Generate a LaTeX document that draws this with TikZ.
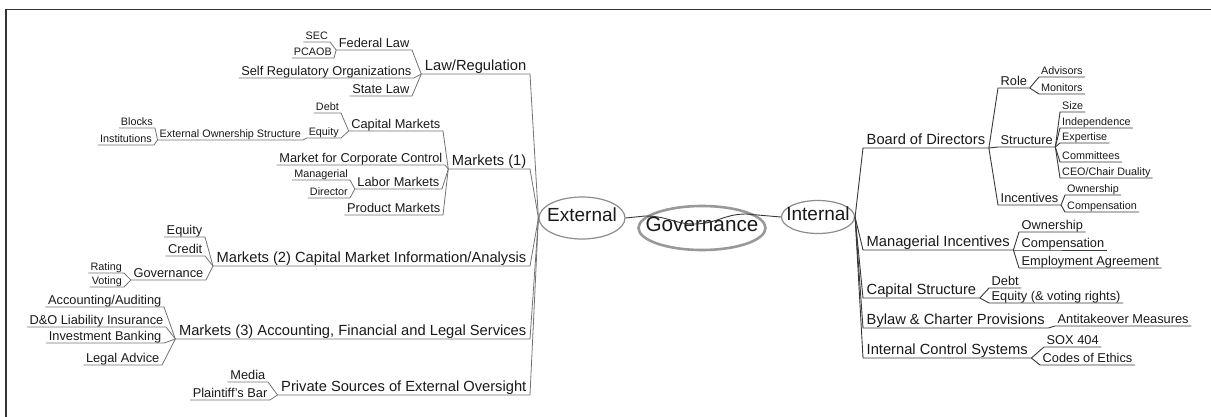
\documentclass[tikz,border=0pt]{standalone}
\usepackage{fontspec}
\setmainfont{Liberation Sans}
\usetikzlibrary{shapes.geometric}

\begin{document}
\begin{tikzpicture}[x=1pt, y=-1pt, text=black!90,
        hub/.style={ellipse, draw=black!45, line width=1.2pt, inner xsep=-12pt, inner ysep=0pt,
            text height=0.72em, text depth=0pt, font=\fontsize{19}{20}\selectfont},
        centre/.style={hub, draw=black!40, line width=2.6pt, inner xsep=-22pt,
            font=\fontsize{20.7}{22}\selectfont},
        lvtwo/.style={font=\fontsize{14.7}{16}\selectfont, text depth=0pt, inner xsep=3.5pt, inner ysep=3pt},
        lvthree/.style={font=\fontsize{12.8}{14}\selectfont, text depth=0pt, inner xsep=2.5pt, inner ysep=2.5pt},
        lvfour/.style={font=\fontsize{10.8}{12}\selectfont, text depth=0pt, inner xsep=2pt, inner ysep=2pt},
        lt/.style={anchor=south east},
        rt/.style={anchor=south west},
        link/.style={draw=black!55, line width=0.8pt},
        rlink/.style={draw=black!78, line width=0.9pt}]
    \useasboundingbox (0,0) rectangle (1211,416);
    \draw [line width=1.8pt, black!80] (6,417) -- (6,9.5) -- (1212,9.5);

    \node [centre, minimum width=127pt, minimum height=44pt] (gov) at (702,228) {Governance};
    \node [hub, minimum width=86pt, minimum height=42pt] (ext) at (582,218) {External};
    \node [hub, minimum width=73pt, minimum height=33pt] (int) at (818,217) {Internal};
    \draw [rlink] (ext.east) -- (645,216) .. controls (668,216) and (674,224) .. (694,224)
        .. controls (716,224) and (724,214) .. (746,214) -- (int.west);

    % external side
    \node [lvtwo, lt] (law) at (530,74) {Law/Regulation};
    \node [lvtwo, lt] (mkt1) at (530,169) {Markets (1)};
    \node [lvtwo, lt] (mkt2) at (530,266) {Markets (2) Capital Market Information/Analysis};
    \node [lvtwo, lt] (mkt3) at (530,339) {Markets (3) Accounting, Financial and Legal Services};
    \node [lvtwo, lt] (priv) at (530,395) {Private Sources of External Oversight};

    \node [lvthree, lt] (fed) at (412,50) {Federal Law};
    \node [lvthree, lt] (sro) at (414,78) {Self Regulatory Organizations};
    \node [lvthree, lt] (state) at (412,96) {State Law};
    \node [lvfour, lt] (sec) at (330,42) {SEC};
    \node [lvfour, lt] (pcaob) at (334,58) {PCAOB};

    \node [lvthree, lt] (capm) at (443,131) {Capital Markets};
    \node [lvthree, lt] (mcc) at (445,165) {Market for Corporate Control};
    \node [lvthree, lt] (labor) at (442,189) {Labor Markets};
    \node [lvthree, lt] (prod) at (443,215) {Product Markets};
    \node [lvfour, lt] (debt) at (341,113) {Debt};
    \node [lvfour, lt] (eqb) at (341,138) {Equity};
    \node [lvfour, lt] (eos) at (303,140) {External Ownership Structure};
    \node [lvfour, lt] (blocks) at (155,128) {Blocks};
    \node [lvfour, lt] (inst) at (154,145) {Institutions};
    \node [lvfour, lt] (mgr) at (350,180) {Managerial};
    \node [lvfour, lt] (dir) at (350,198) {Director};

    \node [lvthree, lt] (eqa) at (205,237) {Equity};
    \node [lvthree, lt] (credit) at (205,256) {Credit};
    \node [lvthree, lt] (govr) at (206,280) {Governance};
    \node [lvfour, lt] (rating) at (124,273) {Rating};
    \node [lvfour, lt] (voting) at (124,287) {Voting};

    \node [lvthree, lt] (acct) at (164,307) {Accounting/Auditing};
    \node [lvthree, lt] (dno) at (166,327) {D\&O Liability Insurance};
    \node [lvthree, lt] (ib) at (164,343) {Investment Banking};
    \node [lvthree, lt] (legal) at (162,365) {Legal Advice};

    \node [lvthree, lt] (media) at (268,382) {Media};
    \node [lvthree, lt] (pbar) at (270,400) {Plaintiff's Bar};

    \draw [link] (ext.west) -- (law.south east) -- (law.south west);
    \draw [link] (ext.west) -- (mkt1.south east) -- (mkt1.south west);
    \draw [link] (ext.west) -- (mkt2.south east) -- (mkt2.south west);
    \draw [link] (ext.west) -- (mkt3.south east) -- (mkt3.south west);
    \draw [link] (ext.west) -- (priv.south east) -- (priv.south west);

    \draw [link] (law.south west) -- (fed.south east) -- (fed.south west);
    \draw [link] (law.south west) -- (sro.south east) -- (sro.south west);
    \draw [link] (law.south west) -- (state.south east) -- (state.south west);
    \draw [link] (fed.south west) -- (sec.south east) -- (sec.south west);
    \draw [link] (fed.south west) -- (pcaob.south east) -- (pcaob.south west);

    \draw [link] (mkt1.south west) -- (capm.south east) -- (capm.south west);
    \draw [link] (mkt1.south west) -- (mcc.south east) -- (mcc.south west);
    \draw [link] (mkt1.south west) -- (labor.south east) -- (labor.south west);
    \draw [link] (mkt1.south west) -- (prod.south east) -- (prod.south west);
    \draw [link] (capm.south west) -- (debt.south east) -- (debt.south west);
    \draw [link] (capm.south west) -- (eqb.south east) -- (eqb.south west);
    \draw [link] (eqb.south west) -- (eos.south east) -- (eos.south west);
    \draw [link] (eos.south west) -- (blocks.south east) -- (blocks.south west);
    \draw [link] (eos.south west) -- (inst.south east) -- (inst.south west);
    \draw [link] (labor.south west) -- (mgr.south east) -- (mgr.south west);
    \draw [link] (labor.south west) -- (dir.south east) -- (dir.south west);

    \draw [link] (mkt2.south west) -- (eqa.south east) -- (eqa.south west);
    \draw [link] (mkt2.south west) -- (credit.south east) -- (credit.south west);
    \draw [link] (mkt2.south west) -- (govr.south east) -- (govr.south west);
    \draw [link] (govr.south west) -- (rating.south east) -- (rating.south west);
    \draw [link] (govr.south west) -- (voting.south east) -- (voting.south west);

    \draw [link] (mkt3.south west) -- (acct.south east) -- (acct.south west);
    \draw [link] (mkt3.south west) -- (dno.south east) -- (dno.south west);
    \draw [link] (mkt3.south west) -- (ib.south east) -- (ib.south west);
    \draw [link] (mkt3.south west) -- (legal.south east) -- (legal.south west);

    \draw [link] (priv.south west) -- (media.south east) -- (media.south west);
    \draw [link] (priv.south west) -- (pbar.south east) -- (pbar.south west);

    % internal side
    \node [lvtwo, rt] (bod) at (863,148) {Board of Directors};
    \node [lvtwo, rt] (mi) at (863,250) {Managerial Incentives};
    \node [lvtwo, rt] (cs) at (863,298) {Capital Structure};
    \node [lvtwo, rt] (bcp) at (863,328) {Bylaw \& Charter Provisions};
    \node [lvtwo, rt] (ics) at (863,358) {Internal Control Systems};

    \node [lvthree, rt] (role) at (998,88) {Role};
    \node [lvthree, rt] (struct) at (998,147) {Structure};
    \node [lvthree, rt] (inc) at (998,205) {Incentives};
    \node [lvfour, rt] (adv) at (1039,77) {Advisors};
    \node [lvfour, rt] (mon) at (1039,94) {Monitors};
    \node [lvfour, rt] (size) at (1060,112) {Size};
    \node [lvfour, rt] (indep) at (1060,128) {Independence};
    \node [lvfour, rt] (expert) at (1060,143) {Expertise};
    \node [lvfour, rt] (comm) at (1060,162) {Committees};
    \node [lvfour, rt] (ceo) at (1060,178) {CEO/Chair Duality};
    \node [lvfour, rt] (ownb) at (1065,195) {Ownership};
    \node [lvfour, rt] (compb) at (1065,212) {Compensation};

    \node [lvthree, rt] (owna) at (1019,232) {Ownership};
    \node [lvthree, rt] (compa) at (1019,250) {Compensation};
    \node [lvthree, rt] (emp) at (1019,268) {Employment Agreement};
    \node [lvthree, rt] (debtb) at (989,288) {Debt};
    \node [lvthree, rt] (eqc) at (989,303) {Equity (\& voting rights)};
    \node [lvthree, rt] (anti) at (1055,326) {Antitakeover Measures};
    \node [lvthree, rt] (sox) at (1044,347) {SOX 404};
    \node [lvthree, rt] (codes) at (1040,365) {Codes of Ethics};

    \draw [rlink] (int.east) -- (bod.south west) -- (bod.south east);
    \draw [rlink] (int.east) -- (mi.south west) -- (mi.south east);
    \draw [rlink] (int.east) -- (cs.south west) -- (cs.south east);
    \draw [rlink] (int.east) -- (bcp.south west) -- (bcp.south east);
    \draw [rlink] (int.east) -- (ics.south west) -- (ics.south east);

    \draw [rlink] (bod.south east) -- (role.south west) -- (role.south east);
    \draw [rlink] (bod.south east) -- (struct.south west) -- (struct.south east);
    \draw [rlink] (bod.south east) -- (inc.south west) -- (inc.south east);
    \draw [rlink] (role.south east) -- (adv.south west) -- (adv.south east);
    \draw [rlink] (role.south east) -- (mon.south west) -- (mon.south east);
    \draw [rlink] (struct.south east) -- (size.south west) -- (size.south east);
    \draw [rlink] (struct.south east) -- (indep.south west) -- (indep.south east);
    \draw [rlink] (struct.south east) -- (expert.south west) -- (expert.south east);
    \draw [rlink] (struct.south east) -- (comm.south west) -- (comm.south east);
    \draw [rlink] (struct.south east) -- (ceo.south west) -- (ceo.south east);
    \draw [rlink] (inc.south east) -- (ownb.south west) -- (ownb.south east);
    \draw [rlink] (inc.south east) -- (compb.south west) -- (compb.south east);

    \draw [rlink] (mi.south east) -- (owna.south west) -- (owna.south east);
    \draw [rlink] (mi.south east) -- (compa.south west) -- (compa.south east);
    \draw [rlink] (mi.south east) -- (emp.south west) -- (emp.south east);
    \draw [rlink] (cs.south east) -- (debtb.south west) -- (debtb.south east);
    \draw [rlink] (cs.south east) -- (eqc.south west) -- (eqc.south east);
    \draw [rlink] (bcp.south east) -- (anti.south west) -- (anti.south east);
    \draw [rlink] (ics.south east) -- (sox.south west) -- (sox.south east);
    \draw [rlink] (ics.south east) -- (codes.south west) -- (codes.south east);
\end{tikzpicture}
\end{document}
